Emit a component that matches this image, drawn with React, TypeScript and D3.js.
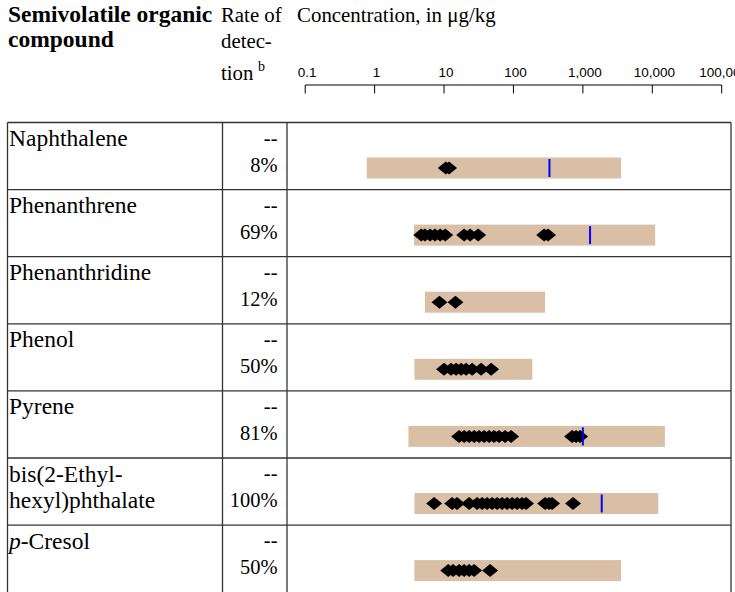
import React from "react";
import * as d3 from "d3";

const compounds = ["Naphthalene", "Phenanthrene", "Phenanthridine", "Phenol", "Pyrene", "bis(2-Ethyl-|hexyl)phthalate", "p-Cresol"];
const rates = ["8%", "69%", "12%", "50%", "81%", "100%", "50%"];
const rangeLow = [0.77, 3.7, 5.3, 3.74, 3.07, 3.75, 3.74];
const rangeHigh = [3550, 11000, 286, 187, 15200, 12200, 3550];
const guideline: (number | null)[] = [330, 1270, null, null, 1000, 1870, null];
const detections: number[][] = [
  [10.6, 11.8],
  [4.7, 5.3, 6.3, 7.4, 8.8, 10.4, 19.5, 23.8, 31, 277, 315],
  [8.6, 14.6],
  [10.0, 12.6, 14.9, 17.6, 20.8, 25.4, 34.2, 47.7],
  [16.5, 19.5, 23, 27.2, 32, 37.8, 44.6, 52.5, 62, 75.8, 92.5, 700, 798, 912],
  [7.2, 13.1, 15.4, 23, 30, 35.4, 41.8, 49.3, 58.2, 68.7, 81.1, 95.7, 113, 133, 152, 286, 326, 360, 722],
  [11.5, 13.5, 16.5, 19.5, 23, 27.1, 46.1],
];
const tickValues = [0.1, 1, 10, 100, 1000, 10000, 100000];
const tickLabels = ["0.1", "1", "10", "100", "1,000", "10,000", "100,000"];

const SERIF = "'Liberation Serif', 'Times New Roman', serif";
const SANS = "'Liberation Sans', Arial, sans-serif";

export default function App() {
  const x = d3.scaleLog().domain([0.1, 100000]).range([305.2, 721.7]);
  const rowTop = (i: number) => 122.5 + i * 67.1;
  const tableLeft = 7.5, tableRight = 731, col1 = 222.5, col2 = 287;
  const border = "#333";
  const diamond = (cx: number, cy: number) => {
    const hw = 8, hh = 6.5;
    const p = d3.path();
    p.moveTo(cx - hw, cy);
    p.lineTo(cx, cy - hh);
    p.lineTo(cx + hw, cy);
    p.lineTo(cx, cy + hh);
    p.closePath();
    return p.toString();
  };

  return (
    <svg width={735} height={592} style={{ position: "absolute", left: 0, top: 0, background: "#fff" }}>
      <rect x={0} y={0} width={735} height={592} fill="#fff" />
      {/* header */}
      <text x={8} y={21.7} fontFamily={SERIF} fontWeight="bold" fontSize={23.5} fill="#000">Semivolatile organic</text>
      <text x={8} y={47} fontFamily={SERIF} fontWeight="bold" fontSize={23.5} fill="#000">compound</text>
      <text x={221} y={21.7} fontFamily={SERIF} fontSize={20.8} fill="#000">Rate of</text>
      <text x={221} y={48.3} fontFamily={SERIF} fontSize={20.8} fill="#000">detec-</text>
      <text x={221} y={80} fontFamily={SERIF} fontSize={20.8} fill="#000">tion</text>
      <text x={258} y={71} fontFamily={SERIF} fontSize={14} fill="#000">b</text>
      <text x={297} y={21.7} fontFamily={SERIF} fontSize={20.9} fill="#000">Concentration, in μg/kg</text>

      {/* axis */}
      <line x1={x(0.1)} x2={x(100000)} y1={85} y2={85} stroke="#000" strokeWidth={1} />
      {tickValues.map((v, i) => (
        <g key={"t" + i}>
          <line x1={x(v)} x2={x(v)} y1={85} y2={93.5} stroke="#000" strokeWidth={1} />
          <text x={x(v) + 2} y={76.7} textAnchor="middle" fontFamily={SANS} fontSize={13.5} fill="#000">{tickLabels[i]}</text>
        </g>
      ))}

      {/* rows */}
      {compounds.map((name, i) => {
        const top = rowTop(i);
        const lines = name.split("|");
        const barY = top + 35;
        const barH = 21;
        const cy = barY + barH / 2;
        const g = guideline[i];
        return (
          <g key={"r" + i}>
            {lines.map((ln, j) => {
              if (ln.startsWith("p-")) {
                return (
                  <text key={j} x={9} y={top + 23.5 + j * 26} fontFamily={SERIF} fontSize={23.5} fill="#000">
                    <tspan fontStyle="italic">p</tspan>
                    <tspan>{ln.slice(1)}</tspan>
                  </text>
                );
              }
              return (
                <text key={j} x={9} y={top + 23.5 + j * 26} fontFamily={SERIF} fontSize={23.5} fill="#000">{ln}</text>
              );
            })}
            <text x={277.5} y={top + 22} textAnchor="end" fontFamily={SERIF} fontSize={20.5} fill="#000">--</text>
            <text x={277.5} y={top + 49} textAnchor="end" fontFamily={SERIF} fontSize={20.5} fill="#000">{rates[i]}</text>
            <rect x={x(rangeLow[i])} y={barY} width={x(rangeHigh[i]) - x(rangeLow[i])} height={barH} fill="#d9bfa6" />
            {detections[i].map((v, k) => (
              <path key={k} d={diamond(x(v), cy)} fill="#000" />
            ))}
            {g !== null && (
              <line x1={x(g)} x2={x(g)} y1={barY + 1.5} y2={barY + barH - 1.5} stroke="#0000ff" strokeWidth={2} />
            )}
          </g>
        );
      })}

      {/* table borders */}
      {compounds.map((_, i) => (
        <line key={"h" + i} x1={tableLeft} x2={tableRight} y1={rowTop(i)} y2={rowTop(i)} stroke={border} strokeWidth={1.3} />
      ))}
      <line x1={tableLeft} x2={tableLeft} y1={rowTop(0)} y2={600} stroke={border} strokeWidth={1.3} />
      <line x1={col1} x2={col1} y1={rowTop(0)} y2={600} stroke={border} strokeWidth={1.3} />
      <line x1={col2} x2={col2} y1={rowTop(0)} y2={600} stroke={border} strokeWidth={1.3} />
      <line x1={tableRight} x2={tableRight} y1={rowTop(0)} y2={600} stroke={border} strokeWidth={1.3} />
    </svg>
  );
}
